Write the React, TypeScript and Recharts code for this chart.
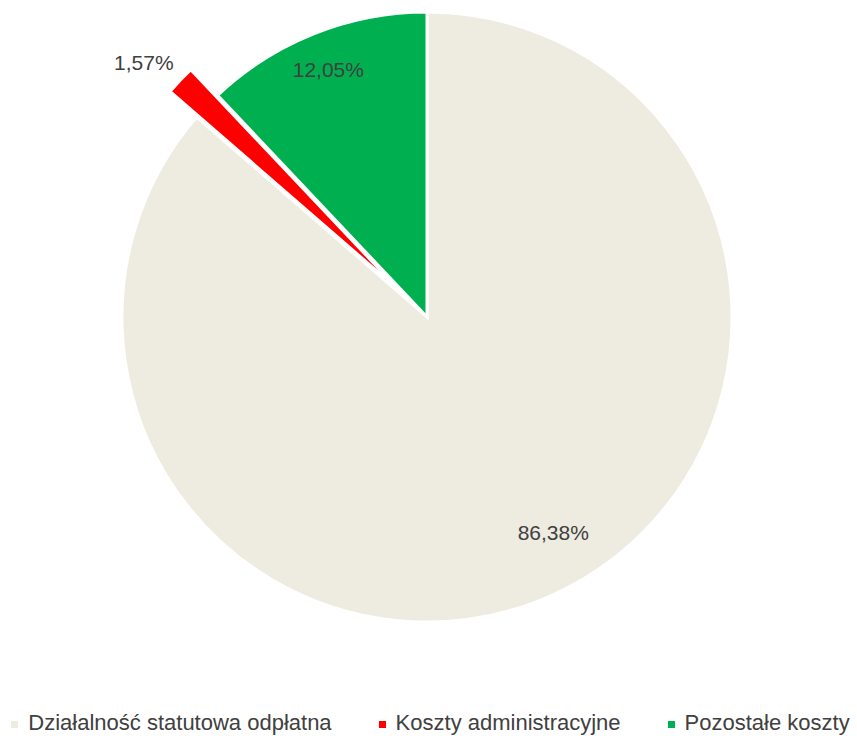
import React from "react";
import { PieChart, Pie, Cell, Legend } from "recharts";

const categories = ["Działalność statutowa odpłatna", "Koszty administracyjne", "Pozostałe koszty"];
const values = [86.38, 1.57, 12.05];
const labels = ["86,38%", "1,57%", "12,05%"];
const colors = ["#EEEBE0", "#FF0000", "#00B050"];

const data = categories.map((name, i) => ({ name, value: values[i], label: labels[i] }));

const FONT = "'Liberation Sans', Arial, sans-serif";
const TEXT = "#404040";
const RAD = Math.PI / 180;

const CX = 427;
const CY = 317;
const R = 305;
const EXPLODE_INDEX = 1;
const EXPLODE = 37;

// label placement tweaks (radius factor, angle shift in degrees)
const labelTweak: Record<number, { f: number; s: number }> = {
  0: { f: 0.82, s: 5.8 },
  1: { f: 1.128, s: 2 },
  2: { f: 0.875, s: 0 },
};

const total = values.reduce((a, b) => a + b, 0);
let acc = 0;
for (let i = 0; i < EXPLODE_INDEX; i++) acc += values[i];
const explodeMid = 90 - ((acc + values[EXPLODE_INDEX] / 2) / total) * 360;
const exCx = CX + EXPLODE * Math.cos(explodeMid * RAD);
const exCy = CY - EXPLODE * Math.sin(explodeMid * RAD);

const makeLabel = (show: (i: number) => boolean) => (props: any) => {
  const { cx, cy, midAngle, outerRadius, index } = props;
  if (!show(index)) return null;
  const t = labelTweak[index];
  const a = (midAngle + t.s) * RAD;
  const r = outerRadius * t.f;
  const x = cx + r * Math.cos(a);
  const y = cy - r * Math.sin(a);
  return (
    <text
      x={x}
      y={y}
      textAnchor="middle"
      dominantBaseline="central"
      fill={TEXT}
      fontFamily={FONT}
      fontSize={21}
    >
      {data[index].label}
    </text>
  );
};

const LegendContent = () => (
  <div
    style={{
      display: "flex",
      justifyContent: "center",
      gap: 47,
      fontFamily: FONT,
      fontSize: 22,
      lineHeight: "20px",
      color: TEXT,
      whiteSpace: "nowrap",
      paddingLeft: 4,
    }}
  >
    {categories.map((c, i) => (
      <div key={c} style={{ display: "flex", alignItems: "center", gap: 10 }}>
        <span
          style={{
            width: 7,
            height: 7,
            background: colors[i],
            display: "inline-block",
            marginTop: 3,
          }}
        />
        <span>{c}</span>
      </div>
    ))}
  </div>
);

export default function App() {
  return (
    <div style={{ position: "absolute", left: 0, top: 0, width: 857, height: 736, background: "#fff" }}>
      <PieChart width={857} height={736} margin={{ top: 0, right: 0, bottom: 0, left: 0 }}>
        <Pie
          data={data}
          dataKey="value"
          cx={CX}
          cy={CY}
          outerRadius={R}
          startAngle={90}
          endAngle={-270}
          stroke="#fff"
          strokeWidth={3}
          labelLine={false}
          label={makeLabel((i) => i !== EXPLODE_INDEX)}
          isAnimationActive={false}
        >
          {data.map((d, i) => (
            <Cell
              key={d.name}
              fill={i === EXPLODE_INDEX ? "none" : colors[i]}
              stroke={i === EXPLODE_INDEX ? "none" : "#fff"}
            />
          ))}
        </Pie>
        <Pie
          data={data}
          dataKey="value"
          cx={exCx}
          cy={exCy}
          outerRadius={R}
          startAngle={90}
          endAngle={-270}
          stroke="#fff"
          strokeWidth={3}
          labelLine={false}
          label={makeLabel((i) => i === EXPLODE_INDEX)}
          isAnimationActive={false}
        >
          {data.map((d, i) => (
            <Cell
              key={d.name}
              fill={i === EXPLODE_INDEX ? colors[i] : "none"}
              stroke={i === EXPLODE_INDEX ? "#fff" : "none"}
            />
          ))}
        </Pie>
        <Legend
          content={<LegendContent />}
          wrapperStyle={{ position: "absolute", top: 713, left: 0, width: 857 }}
        />
      </PieChart>
    </div>
  );
}
